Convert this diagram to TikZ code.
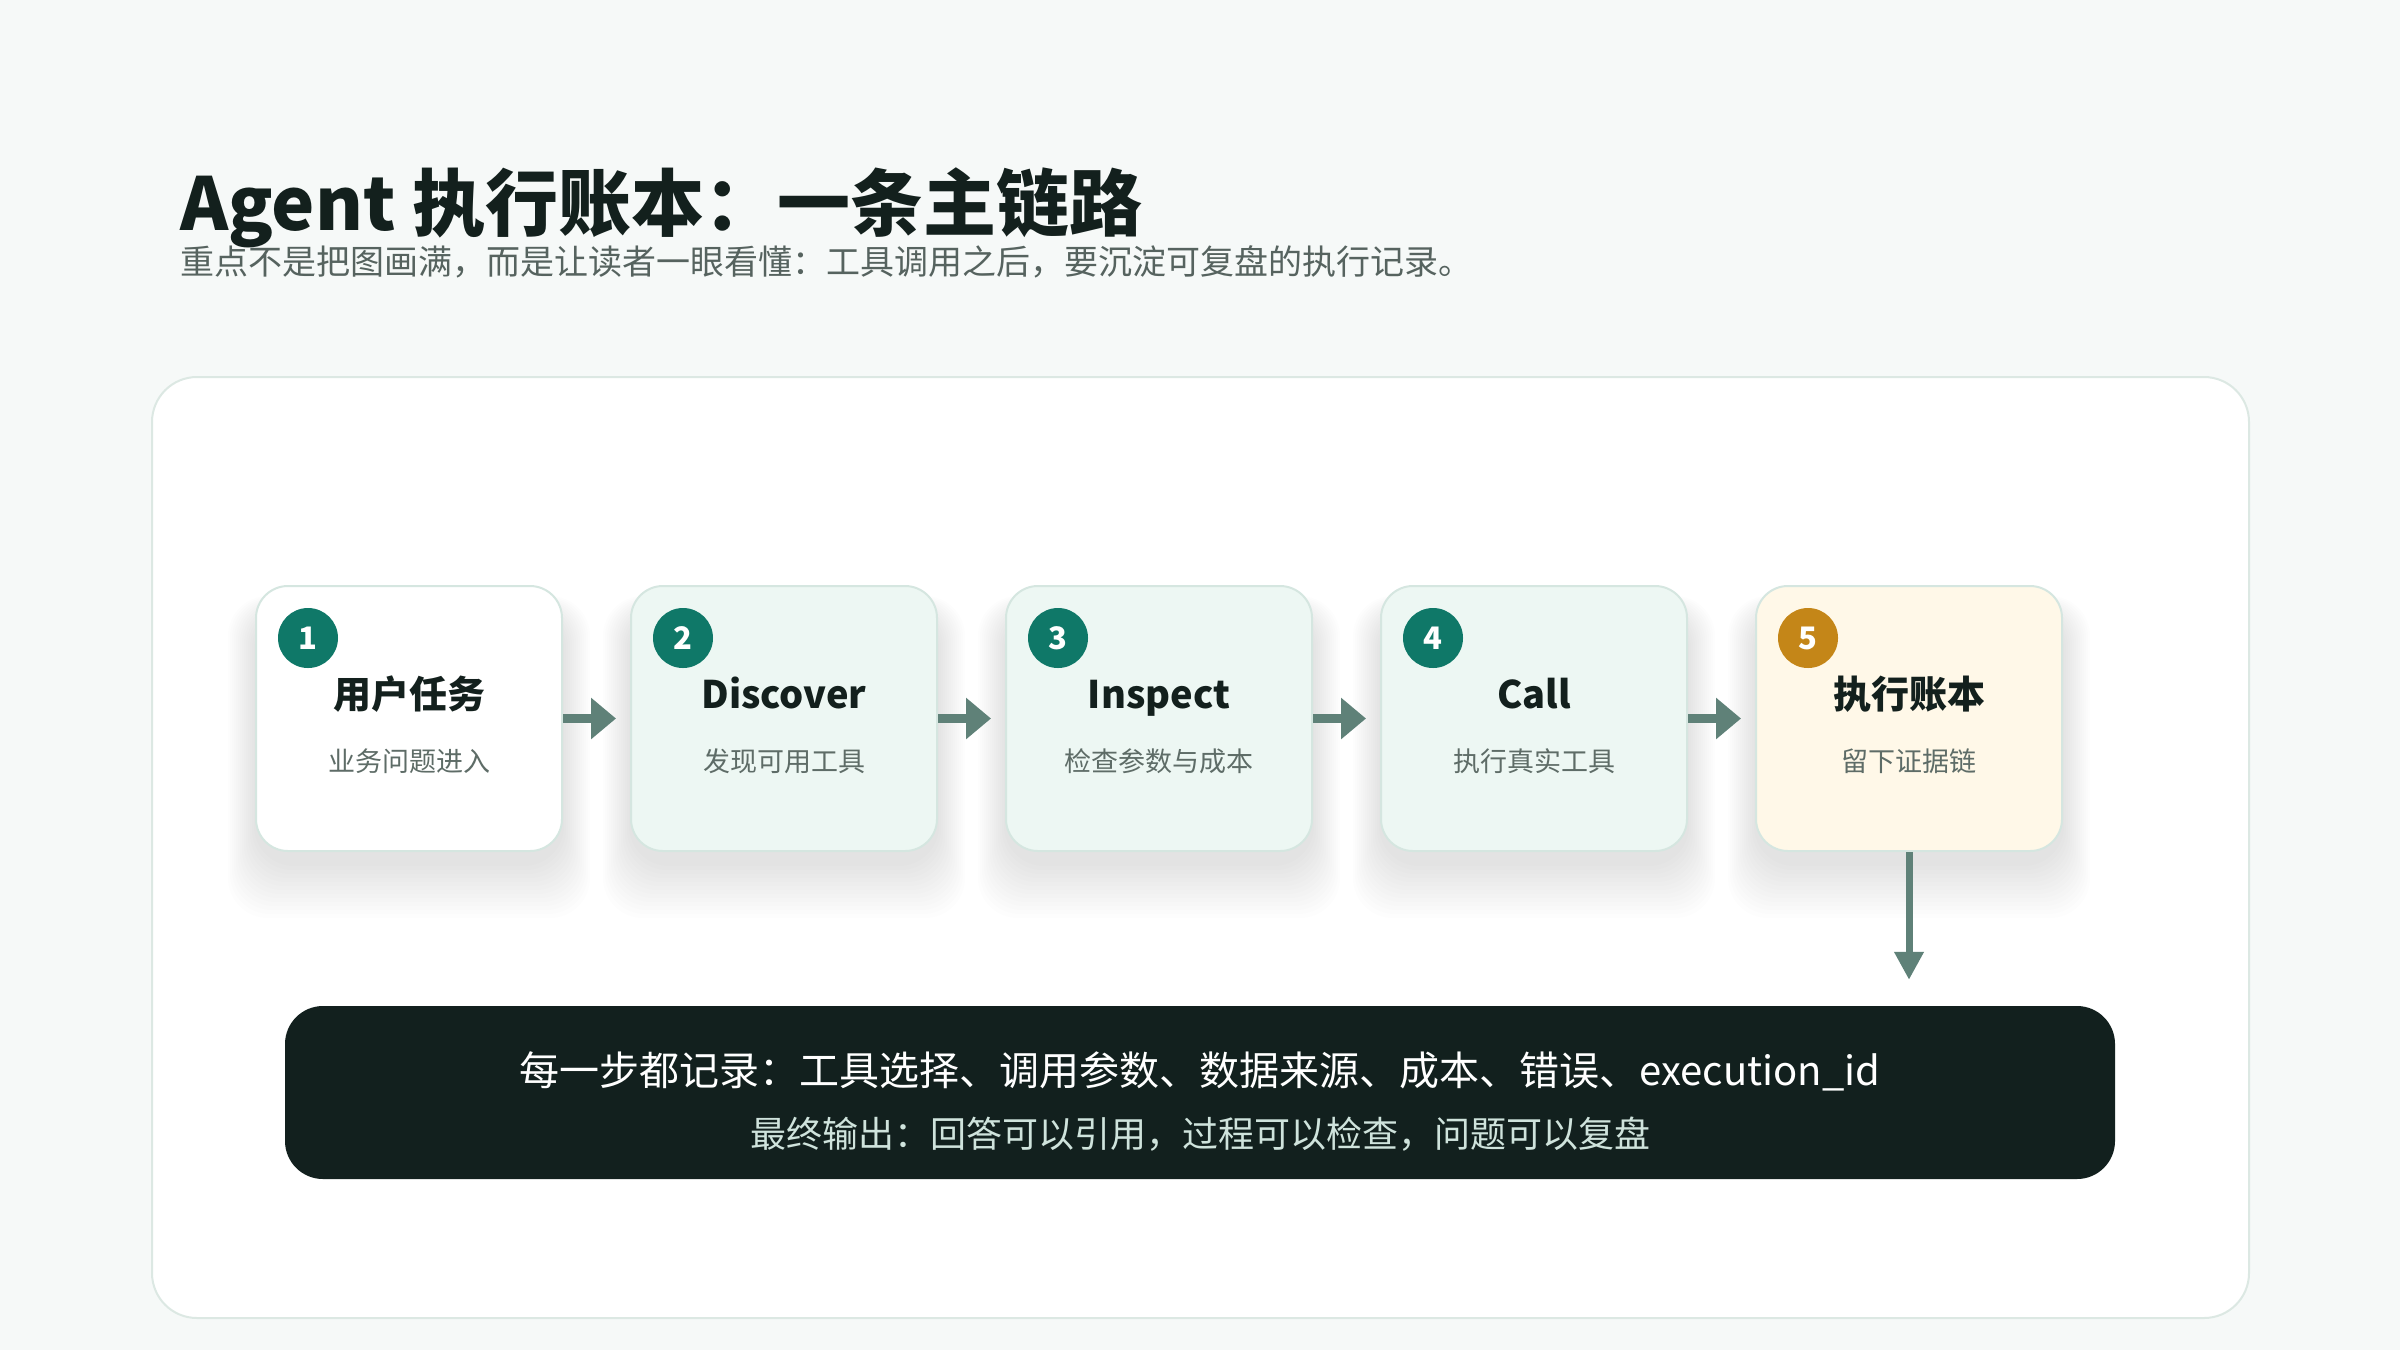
\documentclass[tikz,border=0pt]{standalone}
\usepackage{fontspec}
\setmainfont{Noto Sans CJK SC}
\usetikzlibrary{arrows.meta}

\definecolor{pagebg}{HTML}{F6F9F8}
\definecolor{panelline}{HTML}{DCE8E3}
\definecolor{cardline}{HTML}{D5E6E0}
\definecolor{mint}{HTML}{EDF7F3}
\definecolor{cream}{HTML}{FFF8E8}
\definecolor{teal}{HTML}{0F7868}
\definecolor{amber}{HTML}{C48618}
\definecolor{arrowc}{HTML}{5F8178}
\definecolor{ink}{HTML}{13201D}
\definecolor{subgray}{HTML}{56635F}
\definecolor{cardgray}{HTML}{5E6C67}
\definecolor{ledgerbg}{HTML}{12201E}
\definecolor{paletext}{HTML}{CFE3DC}

\begin{document}
\begin{tikzpicture}[x=1pt,y=-1pt,
  card/.style={draw=cardline, line width=2pt, rounded corners=32pt, minimum width=306pt, minimum height=265pt, inner sep=0pt},
  badge/.style={circle, minimum size=60pt, inner sep=0pt, text=white, font=\fontsize{31}{33}\selectfont\bfseries},
  cardtitle/.style={text=ink, text height=29pt, text depth=7pt, font=\fontsize{38}{42}\selectfont\bfseries},
  cardsub/.style={text=cardgray, text height=21pt, text depth=5pt, font=\fontsize{27}{30}\selectfont},
  flow/.style={draw=arrowc, line width=9pt, -{Triangle[length=25pt,width=40pt]}},
]
\useasboundingbox (0,0) rectangle (2400,1350);
\fill[pagebg] (0,0) rectangle (2400,1350);

% heading
\node[anchor=base west, inner sep=0pt, text=ink, font=\fontsize{73}{80}\selectfont\bfseries] (title) at (180,230) {Agent 执行账本：一条主链路};
\node[anchor=base west, inner sep=0pt, text=subgray, font=\fontsize{34}{38}\selectfont] (subtitle) at (180,274) {重点不是把图画满，而是让读者一眼看懂：工具调用之后，要沉淀可复盘的执行记录。};

\draw[panelline, line width=2pt, fill=white, rounded corners=45pt] (152,377) rectangle (2249,1318);

% soft shadows under the cards
\foreach \i in {0,...,4} {
\foreach \k in {1,...,14} {
\fill[black, opacity=0.006, rounded corners=40pt] (256+375*\i-\k*2, 610-\k) rectangle (562+375*\i+\k*2, 862+\k*4);
}
}

\foreach \i/\ttl/\sub/\bg/\bc in {1/用户任务/业务问题进入/white/teal,
  2/Discover/发现可用工具/mint/teal,
  3/Inspect/检查参数与成本/mint/teal,
  4/Call/执行真实工具/mint/teal,
  5/执行账本/留下证据链/cream/amber} {
\node[card, fill=\bg] (card\i) at ({409+375*(\i-1)},718.5) {};
\node[badge, fill=\bc] (badge\i) at ({308+375*(\i-1)},638) {\i};
\node[cardtitle] (title\i) at ({409+375*(\i-1)},697) {\ttl};
\node[cardsub] (sub\i) at ({409+375*(\i-1)},763) {\sub};
}

\foreach \i/\j in {1/2,2/3,3/4,4/5} {
\draw[flow] (card\i.east) -- ([xshift=-14pt]card\j.west);
}

% ledger bar
\node[fill=ledgerbg, rounded corners=38pt, minimum width=1830pt, minimum height=173pt] (ledger) at (1200,1092.5) {};
\node[text=white, font=\fontsize{40}{44}\selectfont] (note1) at (1200,1071) {每一步都记录：工具选择、调用参数、数据来源、成本、错误、execution\_id};
\node[text=paletext, font=\fontsize{36}{40}\selectfont] (note2) at (1200,1134) {最终输出：回答可以引用，过程可以检查，问题可以复盘};

\draw[draw=arrowc, line width=7pt, -{Triangle[length=28pt,width=28pt]}] (card5.south) -- ([yshift=26pt]ledger.north -| card5.south);
\end{tikzpicture}
\end{document}
